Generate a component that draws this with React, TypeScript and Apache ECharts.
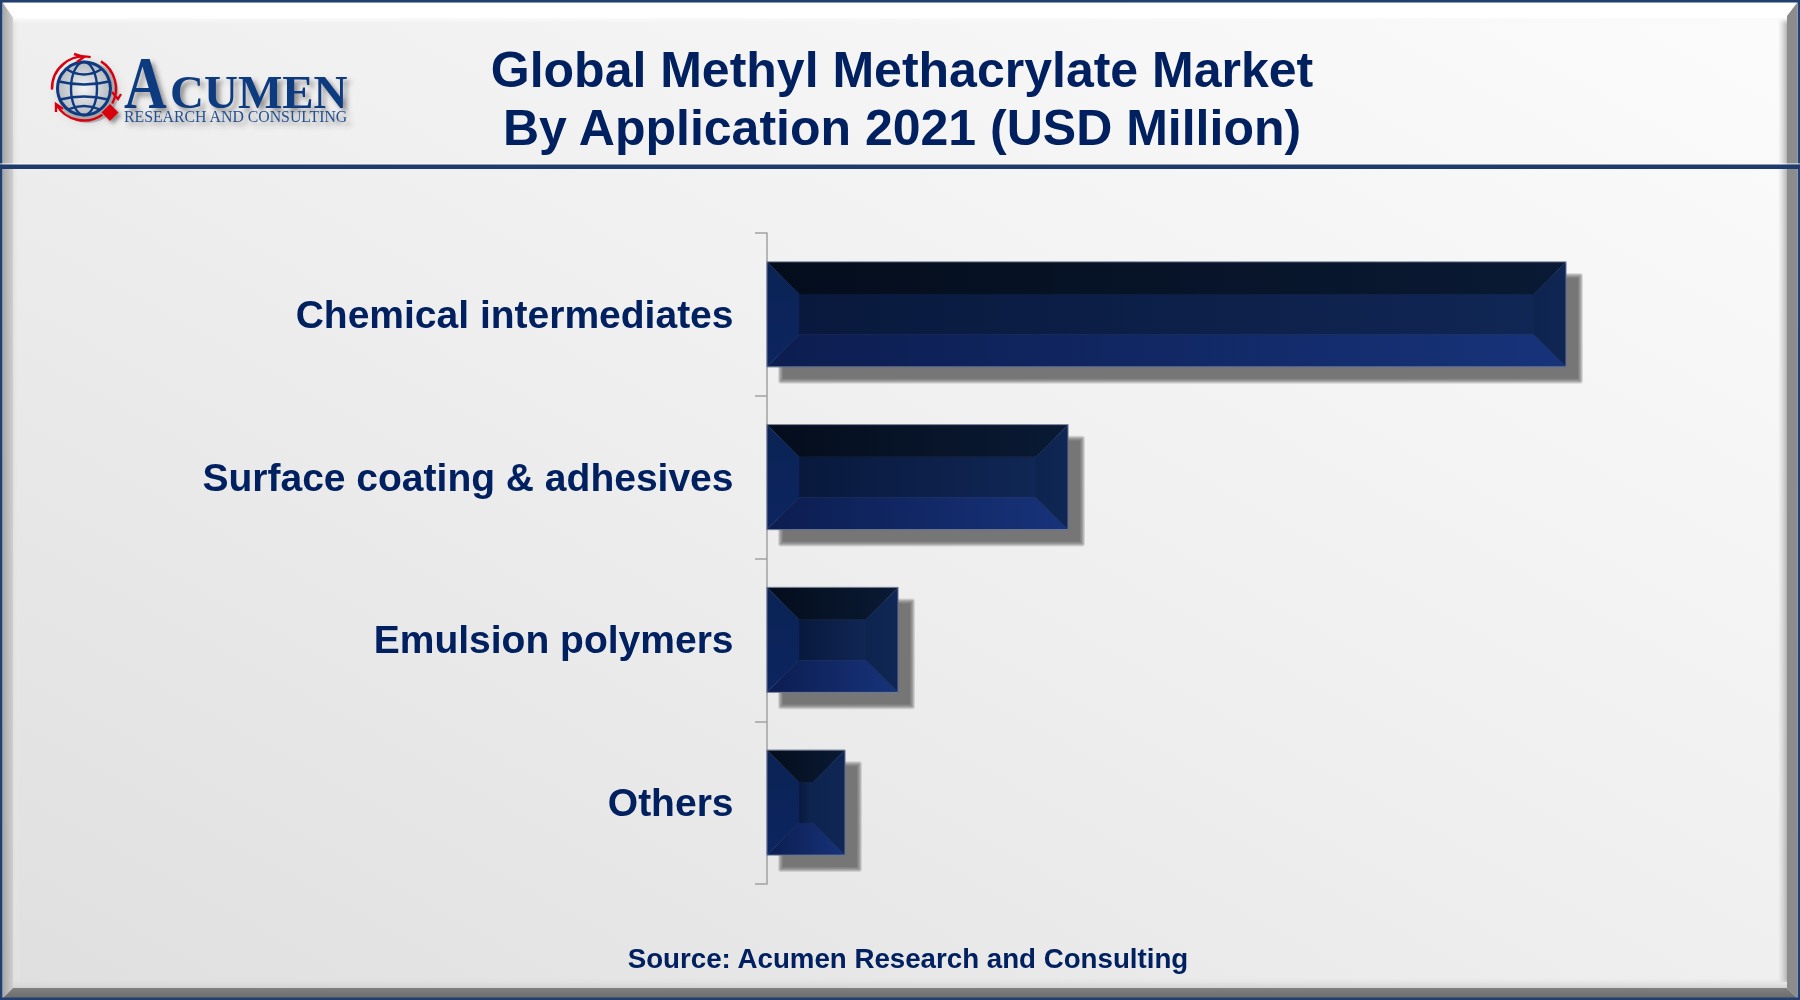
import React, { useEffect, useRef } from "react";
import * as echarts from "echarts";

const categories = ["Chemical intermediates", "Surface coating & adhesives", "Emulsion polymers", "Others"];
const values = [799, 301, 131, 78];
const titleLines = ["Global Methyl Methacrylate Market", "By Application 2021 (USD Million)"];
const sourceText = "Source: Acumen Research and Consulting";

const NAVY = "#002060";
const LOGO = "#0f3a80";
const RED = "#d8000f";
const SANS = '"Liberation Sans", Arial, sans-serif';
const SERIF = '"Liberation Serif", serif';
const hGrad = (a: string, b: string) => new echarts.graphic.LinearGradient(0, 0, 1, 0, [{ offset: 0, color: a }, { offset: 1, color: b }]);
const vGrad = (a: string, b: string) => new echarts.graphic.LinearGradient(0, 0, 0, 1, [{ offset: 0, color: a }, { offset: 1, color: b }]);

function renderBevelBar(_: any, api: any) {
  const v = api.value(0);
  const idx = api.value(1);
  const start = api.coord([0, idx]);
  const end = api.coord([v, idx]);
  const h = api.size([0, 1])[1] * 0.645;
  const b = 32;
  const x0 = start[0];
  const x1 = end[0];
  const y0 = start[1] - h / 2;
  const y1 = y0 + h;
  const poly = (points: number[][], fill: any, z2 = 1) => ({ type: "polygon", z2, shape: { points }, style: { fill, stroke: fill, lineWidth: 0.4 } });
  const shadowRect = (e: number, fill: string) => ({
    type: "rect",
    z2: 0,
    shape: { x: x0 + 14 - e, y: y0 + 14 - e, width: x1 - x0 + 2 * e, height: h + 2 * e, r: Math.max(e, 0) },
    style: { fill },
  });
  return {
    type: "group",
    children: [
      shadowRect(3, "rgba(118,118,118,0.22)"),
      shadowRect(2, "rgba(118,118,118,0.3)"),
      shadowRect(1, "rgba(118,118,118,0.35)"),
      shadowRect(0, "rgba(118,118,118,0.4)"),
      shadowRect(-1, "rgba(118,118,118,0.5)"),
      shadowRect(-2, "#767676"),
      poly([[x0 + b, y0 + b], [x1 - b, y0 + b], [x1 - b, y1 - b], [x0 + b, y1 - b]], hGrad("#09193d", "#102654")),
      poly([[x0, y0], [x1, y0], [x1 - b, y0 + b], [x0 + b, y0 + b]], hGrad("#040d1c", "#0a1a34")),
      poly([[x0, y1], [x1, y1], [x1 - b, y1 - b], [x0 + b, y1 - b]], hGrad("#0c1d50", "#17337a")),
      poly([[x0, y0], [x0 + b, y0 + b], [x0 + b, y1 - b], [x0, y1]], vGrad("#0a2354", "#0d2560")),
      poly([[x1, y0], [x1 - b, y0 + b], [x1 - b, y1 - b], [x1, y1]], hGrad("#0d244f", "#102755")),
      {
        type: "rect",
        z2: 2,
        shape: { x: x0, y: y0, width: x1 - x0, height: h },
        style: { fill: "none", stroke: "rgba(130,140,165,0.75)", lineWidth: 1 },
      },
    ],
  };
}

function logoElements() {
  const cx = 84;
  const cy = 88.5;
  const r = 26.5;
  const globeLine = { fill: "none", stroke: LOGO, lineWidth: 2.4 };
  const arcLine = { fill: "none", stroke: RED, lineWidth: 2.4 };
  const bend = (x1: number, y1: number, cpx: number, cpy: number, x2: number, y2: number) => ({
    type: "bezierCurve", shape: { x1, y1, cpx1: cpx, cpy1: cpy, x2, y2 }, style: globeLine,
  });
  const shadow = { textShadowColor: "rgba(60,60,60,0.55)", textShadowBlur: 5, textShadowOffsetX: 4, textShadowOffsetY: 4 };
  return [
    { type: "circle", shape: { cx: cx + 4, cy: cy + 4, r: r + 4 }, style: { fill: "rgba(90,90,90,0.35)", shadowBlur: 8, shadowColor: "rgba(90,90,90,0.6)" } },
    {
      type: "circle",
      shape: { cx, cy, r },
      style: {
        fill: new echarts.graphic.RadialGradient(0.5, 0.5, 0.6, [{ offset: 0, color: "#f4f4f4" }, { offset: 1, color: "#a8aeb8" }]),
        stroke: LOGO, lineWidth: 3,
      },
    },
    { type: "ellipse", shape: { cx, cy, rx: 13, ry: r }, style: globeLine },
    bend(cx - 25, cy - 7, cx, cy - 1, cx + 25, cy - 7),
    bend(cx - 24, cy + 11, cx, cy + 5, cx + 24, cy + 11),
    bend(cx - 17, cy - 19, cx, cy - 9, cx + 17, cy - 19),
    bend(cx - 16, cy + 21, cx, cy + 14, cx + 16, cy + 21),
    { type: "arc", shape: { cx, cy, r: 32, startAngle: (Math.PI * 178) / 180, endAngle: (Math.PI * 282) / 180 }, style: arcLine },
    { type: "arc", shape: { cx, cy, r: 32, startAngle: (Math.PI * 302) / 180, endAngle: (Math.PI * 388) / 180 }, style: arcLine },
    { type: "arc", shape: { cx, cy, r: 32, startAngle: (Math.PI * 55) / 180, endAngle: (Math.PI * 150) / 180 }, style: arcLine },
    { type: "polyline", shape: { points: [[74, 54], [84, 57], [77, 62]] }, style: arcLine },
    { type: "polyline", shape: { points: [[112, 92], [118, 99], [121, 94]] }, style: arcLine },
    { type: "polyline", shape: { points: [[56, 112], [56, 104], [63, 109]] }, style: arcLine },
    { type: "polygon", shape: { points: [[110, 104], [118.5, 112.5], [110, 121], [101.5, 112.5]] }, style: { fill: RED, shadowBlur: 4, shadowOffsetX: 3, shadowOffsetY: 3, shadowColor: "rgba(70,70,70,0.6)" } },
    { type: "text", x: 124, y: 58, scaleX: 0.8, style: { text: "A", font: `700 74px ${SERIF}`, lineHeight: 50, fill: LOGO, ...shadow } },
    { type: "text", x: 170, y: 75, style: { text: "CUMEN", font: `700 47px ${SERIF}`, lineHeight: 34, fill: LOGO, ...shadow } },
    { type: "text", x: 124, y: 110, style: { text: "RESEARCH AND CONSULTING", font: `400 15.8px ${SERIF}`, lineHeight: 12, fill: "#24508f", ...shadow } },
  ];
}

function frameElements() {
  const rect = (x: number, y: number, width: number, height: number, fill: any) => ({ type: "rect", shape: { x, y, width, height }, style: { fill } });
  return [
    rect(0, 0, 1800, 1000, new echarts.graphic.LinearGradient(0, 1, 1, 0, [
      { offset: 0, color: "#dfdfdf" },
      { offset: 0.5, color: "#efefef" },
      { offset: 1, color: "#fcfcfc" },
    ])),
    // soft inner edges of the bevel
    rect(12, 18, 8, 964, hGrad("#dddddd", "rgba(236,236,236,0)")),
    rect(1778, 18, 9, 964, hGrad("rgba(200,200,200,0)", "#b4b4b4")),
    rect(12, 978, 1775, 10, vGrad("rgba(225,225,225,0)", "#d2d2d2")),
    rect(12, 18, 1775, 6, vGrad("#fbfbfb", "rgba(245,245,245,0)")),
    // bevel faces
    { type: "polygon", shape: { points: [[3, 3], [1797, 3], [1785, 18], [14, 18]] }, style: { fill: "#ffffff" } },
    { type: "polygon", shape: { points: [[3, 3], [13, 18], [13, 988], [3, 998]] }, style: { fill: hGrad("#a8a8a8", "#cfcfcf") } },
    { type: "polygon", shape: { points: [[1797, 3], [1787, 16], [1787, 988], [1797, 998]] }, style: { fill: "#8c8c8c" } },
    { type: "polygon", shape: { points: [[3, 998], [13, 988], [1787, 988], [1797, 998]] }, style: { fill: vGrad("#808080", "#6c6c6c") } },
    // navy border and header rule
    rect(0, 0, 1800, 2.5, "#21406f"),
    rect(0, 997.5, 1800, 2.5, "#21406f"),
    rect(0, 0, 2.5, 1000, "#21406f"),
    rect(1797.5, 0, 2.5, 1000, "#21406f"),
    rect(0, 163.5, 1800, 1, "#ffffff"),
    rect(0, 164.5, 1800, 4.5, "#1f3b6e"),
  ];
}

export default function App() {
  const ref = useRef<HTMLDivElement>(null);
  useEffect(() => {
    const chart = echarts.init(ref.current!, undefined, { renderer: "svg" });
    chart.setOption({
      animation: false,
      graphic: { elements: [{ type: "group", z: -1, silent: true, children: frameElements() }, { type: "group", z: 5, silent: true, children: logoElements() }] },
      title: [
        {
          text: titleLines.join("\n"),
          left: 897,
          top: 35.5,
          textAlign: "center",
          textStyle: { fontFamily: SANS, fontWeight: "bold", fontSize: 50, lineHeight: 58, color: NAVY },
        },
        {
          text: sourceText,
          left: 903,
          top: 937,
          textAlign: "center",
          textStyle: { fontFamily: SANS, fontWeight: "bold", fontSize: 27.7, lineHeight: 32, color: NAVY },
        },
      ],
      grid: { left: 767, top: 233, width: 900, height: 651, containLabel: false },
      xAxis: { type: "value", min: 0, max: 900, show: false },
      yAxis: {
        type: "category",
        inverse: true,
        data: categories,
        axisLine: { show: true, lineStyle: { color: "#a2a2a2", width: 1.5 } },
        axisTick: { show: true, length: 12, lineStyle: { color: "#a2a2a2", width: 1.5 } },
        axisLabel: { margin: 33.5, fontFamily: SANS, fontWeight: "bold", fontSize: 39, color: NAVY },
        splitLine: { show: false },
      },
      series: [
        {
          type: "custom",
          renderItem: renderBevelBar,
          encode: { x: 0, y: 1 },
          data: values.map((v, i) => [v, i]),
          clip: false,
          z: 3,
        },
      ],
    });
    return () => chart.dispose();
  }, []);
  return <div ref={ref} style={{ position: "fixed", left: 0, top: 0, width: 1800, height: 1000 }} />;
}
